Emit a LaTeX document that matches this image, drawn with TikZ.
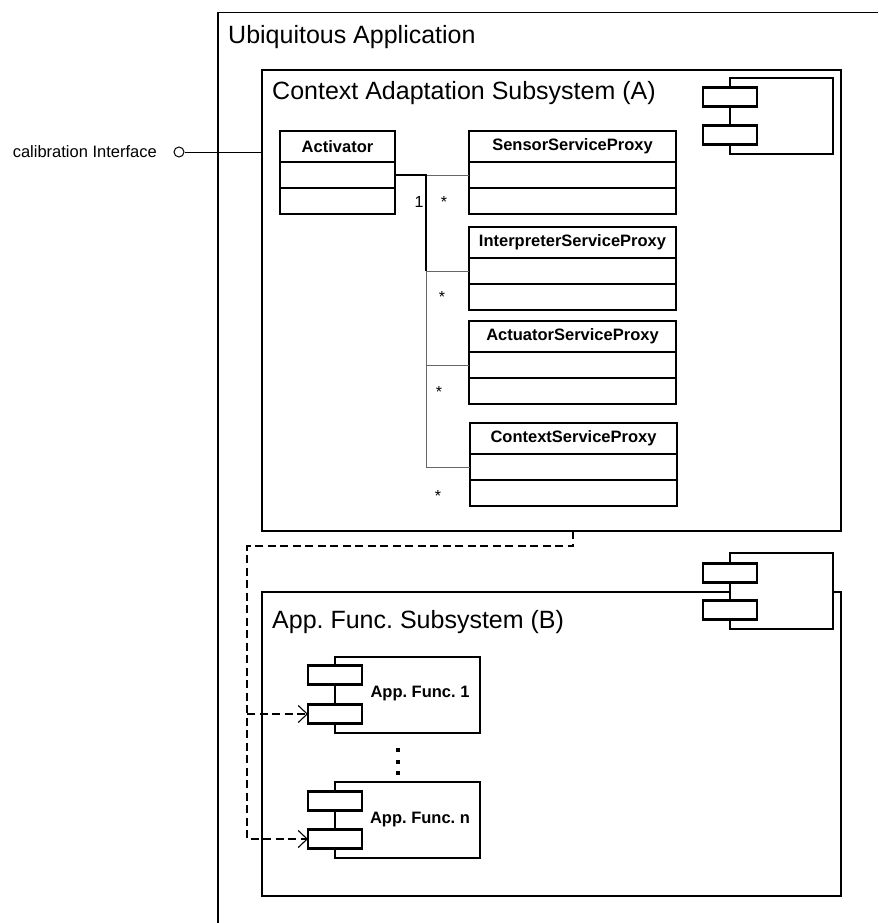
\documentclass[tikz,border=0pt]{standalone}
\usepackage{fontspec}
\setmainfont{Liberation Sans}
\frenchspacing
\usetikzlibrary{calc,positioning,arrows.meta}

\tikzset{
  box/.style={draw, line width=1.3pt, anchor=north west, inner sep=0, outer sep=0},
  title/.style={anchor=base west, inner sep=0, font=\fontsize{25}{30}\selectfont},
  classhead/.style={draw, line width=1.4pt, anchor=north west, minimum height=31, inner sep=0, outer sep=0, font=\bfseries\fontsize{16.5}{20}\selectfont},
  classpart/.style={draw, line width=1.4pt, minimum height=26, inner sep=0, outer sep=0},
  comp/.style={draw, line width=2.4pt, fill=white, anchor=north west, minimum height=76, inner sep=0, outer sep=0},
  port/.style={draw, line width=2.4pt, fill=white, minimum width=54, minimum height=19, inner sep=0, outer sep=0},
  complabel/.style={inner sep=0, font=\bfseries\fontsize{16.5}{20}\selectfont},
  link/.style={draw=black!60, line width=1pt},
  mainlink/.style={line width=2pt},
  dep/.style={line width=1.1pt, dash pattern=on 8pt off 4.5pt},
  mult/.style={anchor=base, inner sep=0, font=\fontsize{16}{19}\selectfont},
}

\begin{document}
\begin{tikzpicture}[x=1pt, y=-1pt]
        \useasboundingbox (0,0) rectangle (878,923);

        % outer frame
        \draw[line width=1.4pt] (218,923) -- (218,12.5) -- (878,12.5);
        \node[title] (outerlbl) at (228,44) {Ubiquitous Application};

        % subsystem A
        \node[box, minimum width=579, minimum height=461] (boxA) at (262,70) {};
        \node[title] (boxAlbl) at (272,100) {Context Adaptation Subsystem (A)};
        \node[comp, minimum width=103] (compA) at (730,78) {};
        \node[port] (compAp1) at ($(compA.north west)+(0,19)$) {};
        \node[port] (compAp2) at ($(compA.north west)+(0,57)$) {};

        % interface
        \node[draw, circle, minimum size=10, inner sep=0, line width=1pt] (iface) at (179,152) {};
        \draw[line width=1pt] (iface) -- (iface -| boxA.west);
        \node[anchor=east, inner sep=0, font=\fontsize{16.5}{20}\selectfont] (ifacelbl) at (157,152) {calibration Interface};

        % classes
        \node[classhead, minimum width=115] (act) at (280,131) {Activator};
        \node[classpart, minimum width=115, below=0pt of act] (act1) {};
        \node[classpart, minimum width=115, below=0pt of act1] (act2) {};

        \node[classhead, minimum width=207] (sens) at (469,131) {SensorServiceProxy};
        \node[classpart, minimum width=207, below=0pt of sens] (sens1) {};
        \node[classpart, minimum width=207, below=0pt of sens1] (sens2) {};

        \node[classhead, minimum width=207] (inter) at (469,227) {InterpreterServiceProxy};
        \node[classpart, minimum width=207, below=0pt of inter] (inter1) {};
        \node[classpart, minimum width=207, below=0pt of inter1] (inter2) {};

        \node[classhead, minimum width=207] (actu) at (469,321) {ActuatorServiceProxy};
        \node[classpart, minimum width=207, below=0pt of actu] (actu1) {};
        \node[classpart, minimum width=207, below=0pt of actu1] (actu2) {};

        \node[classhead, minimum width=207] (ctx) at (470,423) {ContextServiceProxy};
        \node[classpart, minimum width=207, below=0pt of ctx] (ctx1) {};
        \node[classpart, minimum width=207, below=0pt of ctx1] (ctx2) {};

        % associations
        \coordinate (bus) at (426,175);
        \draw[link] (bus) -- (sens1.west);
        \draw[link] (bus) |- (inter1.west);
        \draw[link] (bus) |- (actu1.west);
        \draw[link] (bus) |- (ctx1.west);
        \draw[mainlink] (act1.east) -- (bus) -- (bus |- inter1.west);

        \node[mult] (m1) at (419,207) {1};
        \node[mult] (ms) at (444,207) {*};
        \node[mult] (mi) at (442,302) {*};
        \node[mult] (ma) at (439,397) {*};
        \node[mult] (mc) at (438,501) {*};

        % subsystem B
        \node[box, minimum width=579, minimum height=304] (boxB) at (262,592) {};
        \node[title] (boxBlbl) at (272,628) {App. Func. Subsystem (B)};
        \node[comp, minimum width=103] (compB) at (730,553) {};
        \node[port] (compBp1) at ($(compB.north west)+(0,20)$) {};
        \node[port] (compBp2) at ($(compB.north west)+(0,57)$) {};

        \node[comp, minimum width=145] (af1) at (335,657) {};
        \node[port] (af1p1) at ($(af1.north west)+(0,18)$) {};
        \node[port] (af1p2) at ($(af1.north west)+(0,57)$) {};
        \node[complabel] (af1lbl) at (420,694) {App. Func. 1};

        \foreach \y in {750,762,773}
            \fill (396,\y-2) rectangle (400,\y+2);

        \node[comp, minimum width=145] (afn) at (335,782) {};
        \node[port] (afnp1) at ($(afn.north west)+(0,19)$) {};
        \node[port] (afnp2) at ($(afn.north west)+(0,57)$) {};
        \node[complabel] (afnlbl) at (420,820) {App. Func. n};

        % dependencies
        \coordinate (drop) at (573,546);
        \coordinate (turn) at (247,546);
        \draw[dep, -{Straight Barb[length=9pt,width=17pt]}] (drop |- boxA.south) -- (drop) -- (turn) |- (afnp2.west);
        \draw[dep, -{Straight Barb[length=9pt,width=17pt]}] (turn |- af1p2.west) -- (af1p2.west);

    \end{tikzpicture}
\end{document}
